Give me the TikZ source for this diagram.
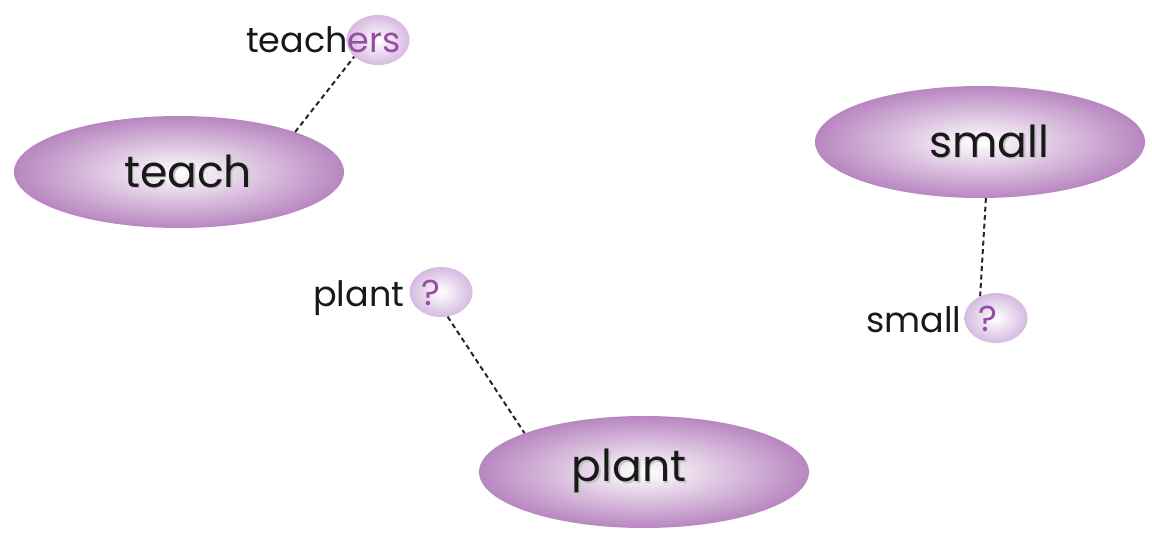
\documentclass[tikz,border=0pt]{standalone}
\usepackage{fontspec}
\setmainfont{Poppins}
\usetikzlibrary{shapes.geometric}
\definecolor{bigedge}{RGB}{184,134,192}
\definecolor{smalledge}{RGB}{214,186,224}
\definecolor{accent}{RGB}{150,78,162}
\definecolor{shadowgray}{RGB}{195,195,195}
\newcommand\shtext[1]{\makebox[0pt][l]{\raisebox{-1.8pt}{\hspace{1.8pt}\textcolor{shadowgray}{#1}}}#1}
\tikzset{
  bigoval/.style={ellipse, inner sep=0pt, minimum width=330pt, minimum height=112pt,
    shading=radial, inner color=white, outer color=bigedge},
  bigword/.style={inner sep=0pt, font=\fontsize{44}{50}\selectfont, text=black!90},
  smalloval/.style={ellipse, inner sep=0pt, minimum width=63pt, minimum height=50pt,
    shading=radial, inner color=white, outer color=smalledge},
  word/.style={anchor=base west, inner sep=0pt, font=\fontsize{35}{40}\selectfont, text=black!90},
  qmark/.style={inner sep=0pt, font=\fontsize{36}{40}\selectfont, text=accent},
  link/.style={line width=2pt, dash pattern=on 5pt off 3.5pt, black!85}
}
\begin{document}
\begin{tikzpicture}[x=1pt,y=-1pt]
\useasboundingbox (0,0) rectangle (1152,540);
% big ovals
\node[bigoval] (teach) at (179,172) {};
\node[bigoval] (small) at (980,142) {};
\node[bigoval] (plant) at (644,472) {};
\node[bigword] (tteach) at (188,172) {\shtext{teach}};
\node[bigword] (tsmall) at (989,142) {\shtext{small}};
\node[bigword] (tplant) at (629,472) {\shtext{plant}};
% small ovals
\node[smalloval] (ers) at (378,40) {};
\node[smalloval] (qplant) at (441,292) {};
\node[smalloval] (qsmall) at (996,318) {};
% words
\node[word] (wteachers) at (246,53) {teach\textcolor{accent}{ers}};
\node[word] (wplant) at (313,307) {plant};
\node[word] (wsmall) at (866,333) {small};
\node[qmark] (q1) at (431,293) {?};
\node[qmark] (q2) at (988,319) {?};
% links
\draw[link] (teach.19) -- (ers.215);
\draw[link] (qplant.285) -- (plant.162);
\draw[link] (small.276) -- (qsmall.126);
\end{tikzpicture}
\end{document}
